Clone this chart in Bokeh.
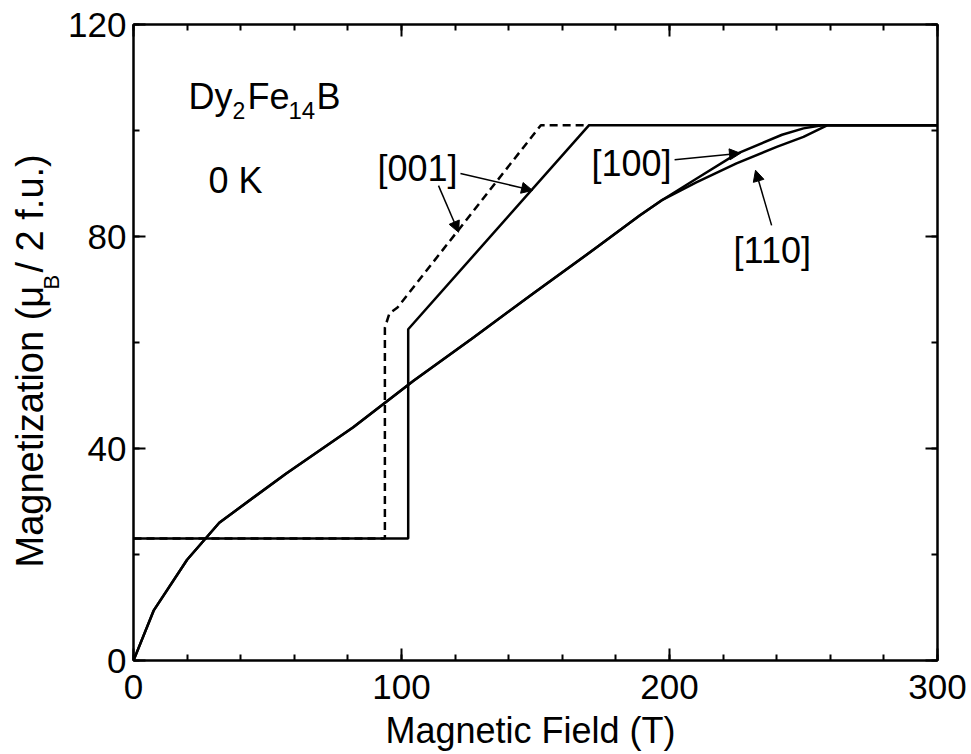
import math
from bokeh.plotting import figure
from bokeh.layouts import row
from bokeh.models import (Range1d, LinearAxis, SingleIntervalTicker, CustomJSTickFormatter,
                          Label, Arrow, NormalHead)
from bokeh.embed import file_html
from bokeh.resources import INLINE

# ---- data ----
# [001] solid
b001_solid_x = [0, 102.5, 102.5, 170, 300]
b001_solid_y = [23, 23, 62.5, 101, 101]
# [001] dashed
b001_dash_x = [0, 93.8, 93.8, 95.5, 98.5, 152, 170]
b001_dash_y = [23, 23, 62.8, 65.5, 66.6, 101, 101]
# [100]
b100_x = [0, 7.5, 20, 32, 57, 82, 104.5, 127, 149, 173, 189, 197, 210, 225, 242, 250, 257, 300]
b100_y = [0, 9.4, 19, 26, 35.3, 44, 52.8, 61, 69.2, 78, 84, 86.8, 90.9, 95.6, 99.2, 100.4, 101, 101]
# [110]
b110_x = [0, 7.5, 20, 32, 57, 82, 104.5, 127, 149, 173, 189, 197, 210, 225, 240, 250, 259, 300]
b110_y = [0, 9.4, 19, 26, 35.3, 44, 52.8, 61, 69.2, 78, 84, 86.8, 90.2, 93.8, 96.9, 98.8, 101, 101]

x_ticks_interval = 100
y_ticks_interval = 40

FONT = "Liberation Sans"
W_LABEL = 64
H = 754
TOP, BOTTOM = 24, 94
PX_PER_UNIT = (H - TOP - BOTTOM) / 120.0

y_range = Range1d(0, 120)

# ---- narrow figure holding the y-axis title (so the subscript can be real text) ----
pl = figure(width=W_LABEL, height=H, x_range=Range1d(0, W_LABEL), y_range=y_range,
            output_backend="svg", toolbar_location=None, x_axis_type=None, y_axis_type=None,
            min_border_left=0, min_border_right=0, min_border_top=TOP, min_border_bottom=BOTTOM)
pl.outline_line_color = None
pl.xgrid.visible = False
pl.ygrid.visible = False
pl.background_fill_color = "white"
pl.border_fill_color = "white"

def ylab(x, y_px, text, size):
    # y_px: canvas pixel from top -> data units of the shared y range
    pl.add_layout(Label(x=x, y=(H - BOTTOM - y_px) / PX_PER_UNIT, text=text, angle=math.pi / 2,
                        text_align="left", text_baseline="middle", text_font=FONT,
                        text_font_size=size, text_color="black"))

ylab(29.0, 567, "Magnetization  (\u03bc", "38px")
ylab(50.5, 289, "B", "22px")
ylab(29.0, 272, " / 2 f.u.)", "38px")

# ---- main figure ----
p = figure(width=971 - W_LABEL, height=H, x_range=Range1d(0, 300), y_range=y_range,
           output_backend="svg", toolbar_location=None,
           min_border_left=133 - W_LABEL, min_border_right=34, min_border_top=TOP, min_border_bottom=BOTTOM)
p.background_fill_color = "white"
p.border_fill_color = "white"
p.xgrid.visible = False
p.ygrid.visible = False
p.outline_line_color = "black"
p.outline_line_width = 2

def style_axis(ax, interval, nminor, labels=True):
    ax.ticker = SingleIntervalTicker(interval=interval, num_minor_ticks=nminor)
    ax.axis_line_color = "black"
    ax.axis_line_width = 2
    ax.major_tick_in = 12
    ax.major_tick_out = 0
    ax.minor_tick_in = 6
    ax.minor_tick_out = 0
    ax.major_tick_line_width = 2
    ax.minor_tick_line_width = 2
    ax.major_tick_line_color = "black"
    ax.minor_tick_line_color = "black"
    if labels:
        ax.major_label_text_font = FONT
        ax.major_label_text_font_size = "35px"
        ax.major_label_text_color = "black"
    else:
        ax.formatter = CustomJSTickFormatter(code="return ''")
        ax.major_label_standoff = 0

style_axis(p.xaxis[0], x_ticks_interval, 5)
style_axis(p.yaxis[0], y_ticks_interval, 2)
p.xaxis[0].major_label_standoff = 14
p.yaxis[0].major_label_standoff = 7
p.xaxis[0].axis_label = "Magnetic Field  (T)"
p.xaxis[0].axis_label_text_font = FONT
p.xaxis[0].axis_label_text_font_size = "36px"
p.xaxis[0].axis_label_text_font_style = "normal"
p.xaxis[0].axis_label_text_color = "black"
p.xaxis[0].axis_label_standoff = 8

top_ax = LinearAxis()
right_ax = LinearAxis()
style_axis(top_ax, x_ticks_interval, 5, labels=False)
style_axis(right_ax, y_ticks_interval, 2, labels=False)
p.add_layout(top_ax, "above")
p.add_layout(right_ax, "right")

# ---- curves ----
p.line(b100_x, b100_y, line_color="black", line_width=2.5)
p.line(b110_x, b110_y, line_color="black", line_width=2.5)
p.line(b001_solid_x, b001_solid_y, line_color="black", line_width=2.5)
p.line(b001_dash_x, b001_dash_y, line_color="black", line_width=2.5, line_dash="8 5")

def lab(x, y, text, size):
    p.add_layout(Label(x=x, y=y, text=text, text_align="left", text_baseline="middle",
                       text_font=FONT, text_font_size=size, text_color="black"))

# ---- compound label Dy2Fe14B ----
lab(20.5, 106.5, "Dy", "36px")
lab(36.9, 103.8, "2", "23px")
lab(42.5, 106.5, "Fe", "36px")
lab(57.8, 103.8, "14", "24px")
lab(68.3, 106.5, "B", "36px")
lab(28.0, 90.5, "0 K", "36px")

# ---- direction labels ----
lab(91.0, 92.9, "[001]", "36px")
lab(170.9, 93.7, "[100]", "36px")
lab(223.9, 77.3, "[110]", "36px")

def arrow(x0, y0, x1, y1):
    p.add_layout(Arrow(x_start=x0, y_start=y0, x_end=x1, y_end=y1,
                       line_color="black", line_width=1.5,
                       end=NormalHead(size=11, fill_color="black", line_color="black", line_width=1)))

arrow(122.0, 91.9, 148.9, 88.7)
arrow(113.8, 89.6, 121.3, 80.8)
arrow(201.9, 94.5, 226.5, 95.7)
arrow(238.1, 82.1, 232.1, 92.5)

layout = row(pl, p, spacing=0)
open("out.html", "w").write(file_html(layout, INLINE))
